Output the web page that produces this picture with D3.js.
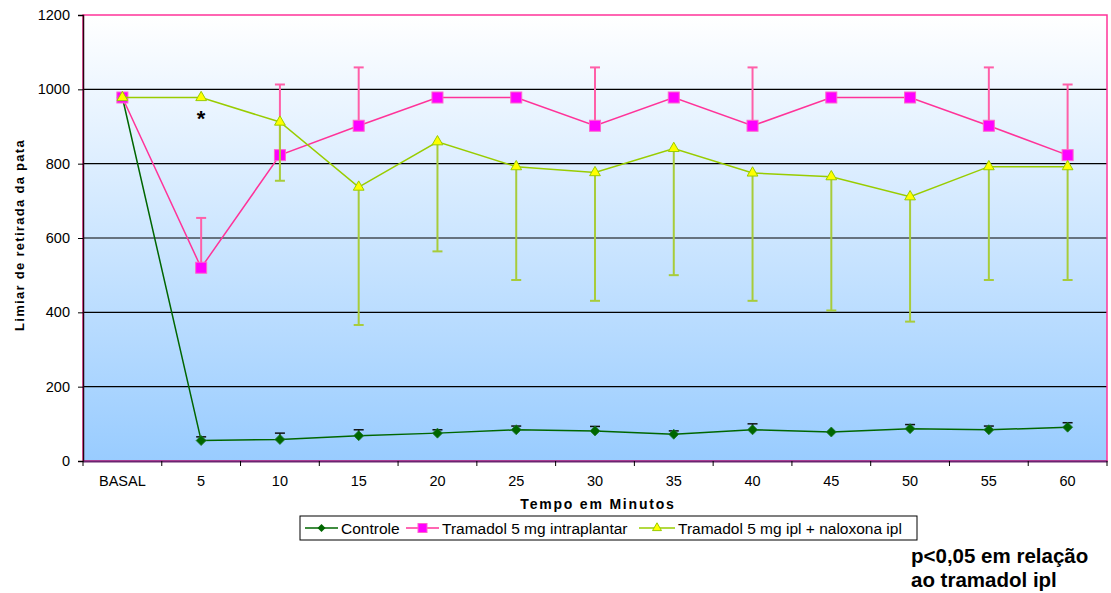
<!DOCTYPE html>
<html><head><meta charset="utf-8">
<script src="https://cdn.jsdelivr.net/npm/d3@7"></script>
<style>
html,body{margin:0;padding:0;background:#fff;}
svg{display:block;font-family:Arial,"Liberation Sans",sans-serif;}
</style></head>
<body>
<svg id="chart" width="1111" height="593"></svg>
<script>
const categories = ["BASAL","5","10","15","20","25","30","35","40","45","50","55","60"];
const controle    = [978, 55, 58, 68, 75, 84, 81, 72, 84, 78, 87, 84, 91];
const controleErr = [0, 10, 17, 16, 9, 10, 12, 9, 16, 0, 11, 10, 12];
const tramadol    = [978, 520, 823, 902, 978, 978, 902, 978, 902, 978, 978, 902, 823];
const tramadolErr = [0, 134, 190, 157, 0, 0, 157, 0, 157, 0, 0, 157, 190];
const naloxona    = [978, 978, 912, 737, 859, 792, 776, 841, 775, 765, 711, 792, 792];
const naloxonaErr = [0, 0, 158, 371, 295, 305, 345, 341, 344, 360, 336, 305, 305];
const yTicks = [0, 200, 400, 600, 800, 1000, 1200];
const seriesNames = ["Controle", "Tramadol 5 mg intraplantar", "Tramadol 5 mg ipl + naloxona ipl"];

const svg = d3.select("#chart");
const L = 83, R = 1107, T = 15, B = 461;

const x = d3.scaleBand().domain(categories).range([L, R]).padding(0);
const y = d3.scaleLinear().domain([0, 1200]).range([B, T]);
const cx = c => x(c) + x.bandwidth() / 2;

// background gradient
const defs = svg.append("defs");
const grad = defs.append("linearGradient").attr("id", "bg").attr("x1", 0).attr("y1", 0).attr("x2", 0).attr("y2", 1);
grad.append("stop").attr("offset", "0%").attr("stop-color", "#FFFFFF");
grad.append("stop").attr("offset", "100%").attr("stop-color", "#99CCFF");

svg.append("rect").attr("x", L).attr("y", T).attr("width", R - L).attr("height", B - T).attr("fill", "url(#bg)");

// gridlines
svg.append("g").selectAll("line").data(yTicks.filter(d => d > 0 && d < 1200)).join("line")
  .attr("x1", L).attr("x2", R).attr("y1", d => y(d)).attr("y2", d => y(d))
  .attr("stroke", "#000").attr("stroke-width", 1.2);

// plot border
svg.append("rect").attr("x", L).attr("y", T).attr("width", R - L).attr("height", B - T)
  .attr("fill", "none").attr("stroke", "#FF3399").attr("stroke-width", 1.5);

// y axis
const yAxis = d3.axisLeft(y).tickValues(yTicks).tickFormat(d3.format("d")).tickSize(5).tickPadding(8);
const gy = svg.append("g").attr("transform", `translate(${L},0)`).call(yAxis);
gy.select(".domain").attr("stroke", "#2a0010").attr("stroke-width", 1.5);
gy.selectAll(".tick line").attr("stroke", "#000");
gy.selectAll(".tick text").attr("font-size", 14.5).attr("font-family", "Arial,'Liberation Sans',sans-serif").attr("fill", "#000");

// x axis
const xAxis = d3.axisBottom(x).tickSize(0).tickPadding(15);
const gx = svg.append("g").attr("transform", `translate(0,${B})`).call(xAxis);
gx.select(".domain").attr("stroke", "#6B2570").attr("stroke-width", 2);
gx.selectAll(".tick text").attr("font-size", 14.5).attr("font-family", "Arial,'Liberation Sans',sans-serif").attr("fill", "#000");
const bounds = categories.map(c => x(c)).concat([R]);
svg.append("g").selectAll("line").data(bounds).join("line")
  .attr("x1", d => d).attr("x2", d => d).attr("y1", B).attr("y2", B + 5)
  .attr("stroke", "#000").attr("stroke-width", 1);

// axis titles
svg.append("text").attr("transform", `translate(24,${(T + B) / 2 - 3}) rotate(-90)`)
  .attr("text-anchor", "middle").attr("font-size", 13).attr("font-weight", "bold")
  .attr("letter-spacing", "1.3px").text("Limiar de retirada da pata");
svg.append("text").attr("x", (L + R) / 2 + 3).attr("y", 509)
  .attr("text-anchor", "middle").attr("font-size", 14).attr("font-weight", "bold")
  .attr("letter-spacing", "1.8px").text("Tempo em Minutos");

// error bars
function errBars(vals, errs, dir, color, capColor, width) {
  const g = svg.append("g");
  const data = categories.map((c, i) => ({c, v: vals[i], e: errs[i]})).filter(d => d.e > 0);
  g.selectAll("line.stem").data(data).join("line")
    .attr("x1", d => cx(d.c)).attr("x2", d => cx(d.c))
    .attr("y1", d => y(d.v)).attr("y2", d => y(d.v + dir * d.e))
    .attr("stroke", color).attr("stroke-width", width);
  g.selectAll("line.cap").data(data).join("line")
    .attr("x1", d => cx(d.c) - 5).attr("x2", d => cx(d.c) + 5)
    .attr("y1", d => y(d.v + dir * d.e)).attr("y2", d => y(d.v + dir * d.e))
    .attr("stroke", capColor).attr("stroke-width", width);
}

const line = d3.line().x(d => cx(d.c)).y(d => y(d.v));
function series(vals) { return categories.map((c, i) => ({c, v: vals[i]})); }
const diamondPath = r => `M0,${-r}L${r},0L0,${r}L${-r},0Z`;

// Controle
errBars(controle, controleErr, 1, "#1a1a1a", "#111", 1.5);
svg.append("path").datum(series(controle)).attr("d", line)
  .attr("fill", "none").attr("stroke", "#006600").attr("stroke-width", 1.5);
svg.append("g").selectAll("path").data(series(controle)).join("path")
  .attr("transform", d => `translate(${cx(d.c)},${y(d.v)})`).attr("d", diamondPath(5))
  .attr("fill", "#006600").attr("stroke", "#1E7A2E").attr("stroke-width", 0.8);

// Tramadol
errBars(tramadol, tramadolErr, 1, "#FF5FA8", "#FF5FA8", 2);
svg.append("path").datum(series(tramadol)).attr("d", line)
  .attr("fill", "none").attr("stroke", "#FF3399").attr("stroke-width", 1.5);
svg.append("g").selectAll("rect").data(series(tramadol)).join("rect")
  .attr("x", d => cx(d.c) - 5.5).attr("y", d => y(d.v) - 5.5).attr("width", 11).attr("height", 11)
  .attr("fill", "#FF00FF").attr("stroke", "#FF66CC").attr("stroke-width", 1);

// Naloxona
errBars(naloxona, naloxonaErr, -1, "#A8CC3A", "#A8CC3A", 2);
svg.append("path").datum(series(naloxona)).attr("d", line)
  .attr("fill", "none").attr("stroke", "#99CC00").attr("stroke-width", 1.5);
const tri = d3.symbol().type(d3.symbolTriangle).size(50);
svg.append("g").selectAll("path").data(series(naloxona)).join("path")
  .attr("transform", d => `translate(${cx(d.c)},${y(d.v)})`).attr("d", tri)
  .attr("fill", "#FFFF00").attr("stroke", "#99CC00").attr("stroke-width", 1);

// asterisk
svg.append("text").attr("x", cx("5")).attr("y", y(978) + 28).attr("text-anchor", "middle")
  .attr("font-size", 22).attr("font-weight", "bold").text("*");

// legend
const lg = svg.append("g");
lg.append("rect").attr("x", 300).attr("y", 516).attr("width", 617).attr("height", 24)
  .attr("fill", "#fff").attr("stroke", "#000").attr("stroke-width", 1);
const legendItems = [
  {name: seriesNames[0], x0: 305, x1: 338, tx: 341, color: "#006600", mark: "d"},
  {name: seriesNames[1], x0: 406, x1: 439, tx: 442, color: "#FF3399", mark: "s"},
  {name: seriesNames[2], x0: 639, x1: 675, tx: 678, color: "#99CC00", mark: "t"}
];
legendItems.forEach(it => {
  const ly = 528;
  lg.append("line").attr("x1", it.x0).attr("x2", it.x1).attr("y1", ly).attr("y2", ly)
    .attr("stroke", it.color).attr("stroke-width", 1.5);
  const mx = (it.x0 + it.x1) / 2;
  if (it.mark === "d") lg.append("path").attr("transform", `translate(${mx},${ly})`).attr("d", diamondPath(4)).attr("fill", "#006600");
  if (it.mark === "s") lg.append("rect").attr("x", mx - 4.5).attr("y", ly - 4.5).attr("width", 9).attr("height", 9).attr("fill", "#FF00FF").attr("stroke", "#FF66CC");
  if (it.mark === "t") lg.append("path").attr("transform", `translate(${mx},${ly})`).attr("d", d3.symbol().type(d3.symbolTriangle).size(35)).attr("fill", "#FFFF00").attr("stroke", "#99CC00");
  lg.append("text").attr("x", it.tx).attr("y", ly + 5.5).attr("font-size", 15.5).text(it.name);
});

// note
svg.append("text").attr("x", 911).attr("y", 563).attr("font-size", 20.5).attr("font-weight", "bold").text("p<0,05 em relação");
svg.append("text").attr("x", 911).attr("y", 587).attr("font-size", 20.5).attr("font-weight", "bold").text("ao tramadol ipl");
</script>
</body></html>
